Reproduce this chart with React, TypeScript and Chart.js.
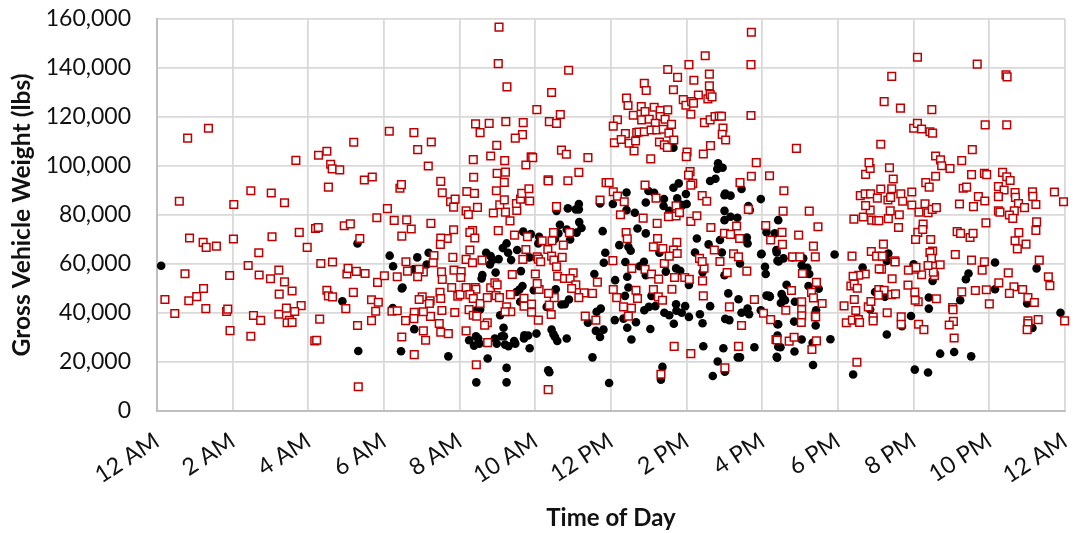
import React, { useEffect, useRef } from "react";
import { Chart, registerables } from "chart.js";

Chart.register(...registerables);

// [hour of day, gross vehicle weight in thousands of lbs]
const overweightNight: number[][] = [
  [.59,85.6],[.81,111.4],[1.36,115.4],[.86,70.6],[1.22,68.8],[1.3,66.8],[1.57,67.3],[2.02,70.2],[2.03,84.3],[2.48,89.9],[3.02,89],[3.37,85],[2.41,59.4],[2.69,64.6],[3.04,71.1],[3.76,72.9],[3.97,66.8],[3.67,102.3],[4.19,74.5],[4.26,74.9],[4.27,104.4],[4.49,106],[4.59,100.7],[4.63,98.8],[4.83,98.4],[4.53,91.4],[4.33,60.2],[4.64,60.8],[4.95,75.6],[5.11,76.4],[5.36,70.4],[5.2,109.7],[5.48,94.3],[5.69,95.5],[5.81,78.9],[6.09,82.6],[6.27,77.8],[6.14,114.2],[6.42,90.9],[6.46,92.4],[6.47,71.4],
  [.74,56],[.21,45.5],[.47,39.8],[.84,45],[1.05,46.7],[1.23,50],[1.29,41.8],[1.84,40.6],[1.87,41.6],[1.92,55.3],[1.93,32.8],[2.48,30.5],[2.55,39],[2.74,37],[2.7,55.5],[3,54],[3.22,57.5],[3.37,52.7],[3.23,47.7],[3.57,49],[3.22,39.5],[3.42,42],[3.81,43],[3.64,40.6],[3.5,37],[3.44,36],[3.57,36.2],[4.3,37.5],[4.17,28.6],[4.22,28.9],[4.49,49.3],[4.53,47],[4.64,46.6],[4.99,41.8],[5.19,48.4],[5.02,55.9],[5.05,58.2],[5.27,57],[5.5,56.1],[5.83,52.5],[6.01,55.2],[6.35,54.8],[5.67,45.4],[5.85,44.4],[5.78,40.7],[5.67,36.9],[5.3,34.9],[5.32,9.9],[6.21,40.7],[6.35,40.9],[6.47,30.2],
];
const overweightMorning: number[][] = [
  [9.04,156.7],[9.02,141.8],[9.25,132.3],[10.88,139.1],[10.43,130],[10.04,123],[10.66,121],[10.37,118.1],[10.56,117.4],[6.79,113.6],[6.89,106.7],[7.25,109.8],[7.17,100],[7.5,93.7],[7.54,89.1],[7.76,85.4],[7.88,86.5],[7.84,83.2],[8.19,89.6],[8.39,88.8],[8.47,83.1],[8.17,81.7],[8.23,80.2],[8.89,80.8],[9.21,81.2],[9.51,81.9],[9.06,84.2],[9.18,86.2],[9.5,84.7],[9.61,86.5],[9.64,88.8],[9.85,85.7],[9.83,90.7],[8.97,89.9],[9.18,93.3],[8.99,97],[9.21,97.5],[8.37,95.4],[8.36,102.6],[9.19,102.2],[8.82,104.1],[8.98,108.4],[8.42,117.2],[8.54,113.6],[8.78,117.4],[9.22,118.1],[9.68,117.7],[9.66,112.8],[9.47,111.4],[9.89,103.7],[9.93,103.4],[9.75,100.4],[10.34,94.4],[10.34,93.9],[10.69,106.5],[10.82,104.8],[11.39,103.4],[11.15,97.4],[10.86,94],[10.56,83.4],[11.71,86.1],[6.6,78],[7.24,76.6],[9.33,77.6],
  [6.72,74.3],[9.02,73.6],[9.45,71.8],[9.79,71.1],[10.48,72.8],[10.9,72.8],[7.84,74],[8.34,73.6],[8.27,72.9],[8.4,70.6],[7.67,70.4],[7.5,70.6],[7.49,68],[8.27,65.7],[7.82,62.7],[7.32,63.4],[7.3,60.5],[6.58,60.9],[6.62,57.1],[7.04,56.8],[6.93,57.8],[6.89,54.8],[7.52,56.8],[7.54,53.7],[7.85,57.5],[8.04,56.9],[8.03,54.5],[8.17,61.9],[8.34,60.5],[8.59,61.6],[7.79,50.4],[7.95,46.9],[8.01,47.5],[8.17,50.4],[8.41,50.4],[8.43,49.7],[8.82,50.3],[8.93,52.3],[8.99,51.5],[9.39,55.7],[8.27,47.5],[8.36,45.9],[8.54,43.9],[8.73,46.3],[8.25,41.4],[8.36,39.1],[8.45,38.7],[8.73,36],[8.66,35],[8.96,47.1],[9.05,46.3],[9.34,47.5],[9.24,42.5],[9.35,40.5],[9.2,40.5],[9.7,46],[9.7,42.8],[9.9,43.6],[9.9,40.3],[10.08,37.1],[10.42,39.4],[10.37,43.2],[10.5,46.3],[10.35,48],[10.1,49.6],[10.05,52],[10,55.9],[9.67,61.9],[9.75,65.9],[10.18,69.5],[10.44,69.5],[10.74,67.7],[10.33,65.9],[10.05,62.9],[10.08,62],[10.14,60.9],[10.43,63.2],[10.49,61.6],[10.71,62.7],[10.56,58.9],[11,56.4],[10.59,55],[10.77,54.1],[10.92,54.1],[11.07,51.5],[10.96,50],[11.29,48.2],[11.51,48],[11.15,46.3],[11.64,52.6],[11.32,38.7],[11.6,37.1],[8.44,18.9],[8.74,27.9],[6.8,23],[10.34,8.7],[7.1,28.9],[7.04,32.7],[7.5,32.2],[7.7,31.6],[7.46,35.7],[7.23,38.6],[7.04,40.5],[6.8,40.3],[6.79,37.7],[6.57,36.9],[7.53,41],[7.87,40.2],[8.17,32.7],[7.01,46.6],[6.93,45.5],[7.22,45],[7.2,43.9],[7.48,48.4],[7.5,45.9],
];
const overweightAfternoon: number[][] = [
  [12.06,49.6],[12.15,46.3],[12.05,61.4],[12.33,42.5],[12.54,42],[12.46,38.7],[12.66,49.3],[12.7,45.9],[12.55,58.2],[12.9,57.8],[13.07,55.9],[13.26,53.8],[13.12,49.6],[13.61,49.7],[13.25,46.6],[13.36,45.2],[13.68,54.5],[13.95,54.5],[14.07,53.7],[14.42,53.1],[14.44,47],[13.41,60.2],[14.46,58.3],[14.34,62.3],[14.41,61],[14.73,65.7],[14.88,61],[15.07,56.5],[15.59,57.1],[15.24,64.2],[15.37,62.9],[15,72.5],[15.16,72.1],[15.4,70.4],[15.32,75.5],[16.09,75.7],[16.22,69.8],[14.64,74.9],[14.11,77.4],[14.27,79.7],[13.81,80.9],[13.54,79.6],[13.72,79.6],[13.22,76.6],[12.85,78.7],[12.25,80.1],[12.4,72.8],[12.43,70.3],[13.12,67],[13.23,70.4],[13.37,66.3],[13.74,68.8],[13.65,65.7],[13.75,64.3],[13.54,63.2],[15.79,45.5],[15.13,42.5],[15.45,34.9],[16.03,39.9],[16.22,37.3],[15.37,26.4],[16.36,29.2],[13.67,26.4],[14.11,23.4],[15.01,17.6],[13.32,15],
  [12.41,127.7],[12.45,124.7],[12.8,124.3],[12.9,122.2],[13.14,124],[13.3,122.6],[13.5,122.9],[12.59,120.7],[12.81,118.8],[13.01,119.1],[13.3,120.2],[13.43,119.1],[13.6,117],[13.17,117.4],[12.17,118.9],[12.06,116.3],[12.38,113.2],[12.68,113.6],[12.74,113.9],[12.88,114],[13.06,114.7],[13.21,114.7],[13.38,115],[13.53,113.4],[12.09,109.5],[12.27,110.8],[12.48,109.3],[12.65,110.2],[12.61,106.1],[13.28,109.8],[13.41,108.6],[13.49,107.6],[13.66,110.6],[13.05,102.9],[12.88,133.7],[12.93,130.8],[13.5,139.4],[13.76,136.2],[14.06,141.4],[14.49,145],[14.6,137.5],[14.19,135],[13.65,131.1],[14.6,132.7],[14.31,129],[13.91,127.1],[13.98,124.8],[14.13,126.3],[14.18,125.6],[14.56,127.4],[14.62,129.2],[14.67,128.2],[14.11,121.1],[14.47,117.7],[14.62,118.8],[14.75,120.2],[14.86,120.4],[14.92,120.3],[14.96,115.5],[14.94,112.9],[15.03,110.6],[14.63,108.3],[14.44,104.9],[14.01,105.7],[13.99,103.8],[15.84,101.4],[15.71,154.6],[15.7,141.4],[15.7,120.6],[15.71,95.8],[16.19,96],[15.41,93.2],[14.09,97.7],[14.05,96.3],[14.16,92.9],[14.11,92.2],[12.9,92.2],[11.87,93.2],[11.95,93.2],[12.06,89.5],[12.17,87.7],[12.35,85.4],[13.19,86.9],[13.72,83.7],[13.81,81],[13.52,79.3],[14.41,87.9],[14.53,85.6],[15.63,82.3],
  [16.9,107.2],[16.57,89.9],[16.55,81.6],[17.24,81.6],[17.47,75.2],[16.52,72.9],[16.96,71.8],[16.53,68],[17.35,67.3],[16.8,62.9],[16.99,62.9],[17.4,62.9],[16.77,49.2],[17.43,52.5],[17.3,48.4],[17.35,46.2],[17.58,43.9],[17.04,44.6],[16.62,41.1],[17.04,41.4],[17.04,38.8],[17.03,36.1],[17.4,38.8],[17.41,38.4],[17.06,56.1],[16.39,29],[16.71,28.5],[16.84,30.1],[17.43,28.6],[17.31,25.1],
];
const overweightEvening: number[][] = [
  [18.37,63.2],[18.88,65.1],[19.2,68.1],[19.02,63.2],[19.17,63.2],[19.5,61.3],[19.6,74.9],[18.42,78.3],[18.67,79.2],[18.89,77.9],[19.02,77.7],[19.08,77.7],[19.33,78.5],[19.62,80.1],[19.38,81.7],[18.85,82],[18.73,83.8],[18.59,87.9],[18.72,88.6],[18.86,88.6],[19.04,86.9],[19.13,90.6],[19.42,90.7],[19.32,86.1],[19.39,87.2],[19.66,88.6],[19.71,85.6],[19.95,89.4],[19.95,84.1],[20.14,81.2],[20.38,80.9],[20.3,84.6],[20.49,82.3],[20.6,83],[19.46,94.7],[18.73,96.6],[18.85,99],[18.82,101.4],[19.36,99.3],[19.13,108.9],[19.22,126.3],[19.65,123.6],[19.42,136.6],[20.1,144.4],[21.68,141.6],[22.44,137.2],[22.47,136.4],[20.48,123],[21.89,116.8],[22.46,116.8],[20,115.4],[20.1,117.4],[20.21,115.1],[20.43,114],[20.5,113.4],[20.58,104.1],[20.71,102.5],[20.74,100.1],[20.96,99],[21.27,102.2],[21.55,106.7],[20.58,95.8],[20.32,93.2],[20.41,91.4],[21.53,96.5],[21.87,97],[21.93,96.5],[22.35,97.4],[22.46,95.6],[22.55,94.1],[22.24,91.6],[22.39,90.2],[21.31,90.9],[21.4,91.4],[21.71,87.5],[21.21,84.5],[21.58,83.4],[21.88,85.7],[22.24,87.5],[22.68,89.2],[22.69,87.2],[22.77,84.7],[22.93,83],[22.66,81.7],[22.24,81.7],[22.28,81.2],[22.53,80],[22.62,78.6],[23.14,89.5],[23.15,87.6],[23.23,84.3],[23.72,89.4],[23.96,85.4],[21.91,76.8],[23.25,77.2],[23.23,73.7],[22.78,72.8],[22.68,69.5],[22.74,66.2],[22.97,68.1],[20.25,76.3],[20.11,72.9],[20.24,74.1],[20.05,70],[20.45,70],[20.5,65.3],[20.43,64.7],[20.47,62.3],[21.1,63.9],[21.15,73.2],[21.24,72.5],[21.49,70.8],[21.57,72.5],[21.53,61.6],[21.87,60.9],[23.32,61.6],
  [21.81,57.5],[22.5,56.4],[22.25,52.3],[21.63,49.2],[21.92,49.5],[21.27,48.6],[22.65,50.7],[22.53,48],[22.88,49.6],[23.02,46.3],[23.19,44.3],[22,43.7],[23.56,54.8],[23.6,51.2],[23.99,36.8],[23.29,37.3],[23.02,36.8],[23.02,35.7],[23,33.2],[21.03,42.2],[21.04,41.4],[21.05,36.6],[20.94,35.1],[21.07,29.8],[20.6,45.8],[20.12,44.6],[20.04,45.2],[20.03,48.5],[19.85,51.4],[20.21,55.6],[20.03,57.9],[20.06,58.6],[19.86,57.5],[20.55,55.2],[20.52,56.7],[20.38,59.4],[20.7,59.7],[19.43,54],[19.51,60.8],[19.15,57.9],[19.09,58],[18.72,55.9],[18.55,55.4],[18.4,55],[18.34,51],[18.43,51.8],[18.51,50.1],[18.16,42.9],[18.43,45.5],[18.8,42.5],[18.87,44.7],[19.08,49.6],[19.22,49.3],[19.07,47.3],[19.42,47.5],[19.52,47.8],[19.3,40.1],[19.67,38.4],[19.67,35.4],[20.13,35.4],[20.27,33.2],[18.93,38.3],[18.93,36.8],[18.47,41],[18.22,36],[18.38,37.1],[18.54,37.3],[18.57,36.1],[18.5,19.9],
];
const legalMorning: number[][] = [
  [.11,59.3],[5.3,68.4],[6.15,63.4],[6.24,59.1],[4.9,44.8],[5.32,24.5],[6.23,42],[6.45,24.4],[6.47,50],
  [11.71,84.7],[11.15,84.5],[11.15,82.3],[11.07,82.3],[10.86,82.7],[10.56,81.7],[11.16,77.1],[11.22,74.7],[11.09,72.8],[10.92,70],[11.78,73.4],[10.65,76],[10.83,74.1],[10.61,72.5],[9.68,73.2],[9.88,72.2],[10.1,71.1],[10.08,68.4],[10.52,70.2],[9.24,68.4],[9.14,66.5],[9.28,64.6],[9.52,65.7],[9.84,62.7],[9.36,61.6],[9.03,62],[8.7,64.6],[8.82,63.2],[8.87,61.6],[8.8,59.8],[7.18,64.6],[6.88,62.7],[6.78,57.8],[7.13,59.8],[6.49,50.4],[8.95,56.5],[9.62,57.1],[8.6,55.5],[8.58,54.1],[9.66,51],[9.58,49.6],[9.5,48.6],[9.96,49.3],[10.54,49.7],[10.89,45.5],[10.78,43.6],[10.69,43.5],[10.3,42.5],[9.6,44.6],[8.54,41.4],[8.45,41.1],[9.07,39.1],[11.73,41.8],[11.62,40.5],[11.39,36],[11.56,55.9],[11.81,60.5],[11.85,64.6],[11.6,32.7],[11.8,33.2],[11.71,30.2],[10.43,33.2],[10.48,31.3],[10.52,30.2],[10.58,28.6],[10.83,29.6],[10.03,31.6],[9.71,30.9],[9.81,30.8],[9.7,29.6],[9.16,34],[9.11,30.5],[9.17,30.5],[8.93,29.6],[8.98,27.5],[9.44,28.6],[9.47,27.5],[9.2,27.1],[9.29,26.4],[9.85,25.6],[8.25,28.9],[8.43,30.5],[8.49,29.6],[8.52,27.5],[8.38,26.7],[8.74,21.4],[7.7,22.3],[6.8,33.4],[9.24,17.6],[9.24,11.7],[8.44,11.7],[10.34,16.6],[10.37,15.8],[11.51,21.9],[11.95,11.4],
];
const legalAfternoon: number[][] = [
  [13.65,107.5],[14.83,101.1],[14.95,99.3],[14.81,98.8],[14.62,93.9],[14.76,94.8],[13.79,92.9],[13.65,91.1],[12.41,89.2],[12.99,89.8],[13.14,89.1],[13.98,88.6],[13.75,86.8],[13.8,84.5],[13.4,86.5],[12.92,85.1],[13.39,83.7],[14,84.5],[13.9,84.1],[15,88.1],[15.02,88.8],[15.16,87.9],[15.45,90.6],[15.96,86.5],[15.63,83.7],[15,81.7],[15.67,82],[12.05,84.5],[12.41,82],[12.63,80.9],[13.54,81.7],[15.16,79.3],[15,77.9],[15.34,78.9],
  [12.1,37.1],[12.43,34],[12.66,36.2],[13.04,33.5],[13.66,35.6],[12.54,29.2],[14.42,35.8],[14.35,39.5],[14.06,38.4],[13.41,40.1],[13.54,39.1],[13.73,40.9],[13.87,40.1],[13.96,42.8],[13.72,43.6],[12.88,41.1],[13,42.5],[13.17,42.8],[14.62,42.8],[15.02,37.6],[15.13,37.1],[15.45,40.1],[15.61,41.8],[15.65,39.5],[15.96,41.1],[15.37,45.6],[15.1,48],[16.11,47.1],[16.19,46.9],[16.4,35.4],[16.07,58.9],[16.09,55.9],[16.4,61.3],[15.98,64.2],[15.61,68.4],[15.59,70.8],[15.41,60.2],[15,55.4],[14.93,64.7],[14.88,69.8],[14.58,68],[14.22,64.7],[14.27,70.4],[16.11,73],[16.33,72.5],[16.37,65.7],[16.42,77.9],[14.42,56.7],[14.06,51.4],[13.45,56.9],[13.72,58.2],[13.83,57.2],[12.87,60.9],[12.76,59.1],[12.38,60.8],[12.92,55.4],[12.43,54.8],[12.11,53.4],[12.46,50.4],[12.37,47],[13.07,47],[12.22,67.7],[12.46,67],[12.52,65.4],[12.7,74.5],[12.92,72.5],[13.28,64.6],[12.33,37.7],
  [14.44,26.4],[14.97,25.6],[14.82,20.2],[15.01,16],[14.69,14.3],[15.41,21.9],[15.35,21.9],[15.79,26],[16.38,22.1],[16.42,26.2],[13.36,18],[13.32,12.8],
  [15.97,64],[16.38,64.7],[16.56,62.3],[16.43,61],[16.8,62.7],[17.08,62.3],[17.91,63.9],[17.04,59.5],[17.19,58.4],[17.24,55.9],[16.64,51.5],[17.22,51],[17.49,49.9],[16.16,47],[16.2,46.6],[16.51,47.7],[16.56,45.9],[16.49,44.1],[16.6,45.2],[16.86,44.6],[16.42,35.4],[16.84,36.5],[17.41,34.9],[17.42,41.1],[16.4,30.8],[16.48,26],[17.04,29.2],[16.85,24.3],[16.39,21.8],[17.33,27.8],[17.34,18.8],[17.8,29.3],
];
const legalEvening: number[][] = [
  [18.65,58.6],[19.29,61.2],[19.33,64.3],[18.98,48.6],[19.24,46.6],[18.85,41.4],[19.29,31.2],[18.4,14.9],[20,59.9],[20.5,53.1],[20.4,46.3],[20.4,41.8],[19.93,38.8],[19.69,34.6],[20.03,16.9],[20.38,15.7],[20.7,23.4],[21.07,24.1],[21.52,22.3],[21.45,56.1],[21.38,53.8],[21.23,45.2],[22.15,60.6],[22.15,49.7],[23.25,58.2],[23,43.9],[23.14,33.9],[23.88,40.1],
];
const hourTicks = ["12 AM","2 AM","4 AM","6 AM","8 AM","10 AM","12 PM","2 PM","4 PM","6 PM","8 PM","10 PM","12 AM"];
const yAxisTitle = "Gross Vehicle Weight (lbs)";
const xAxisTitle = "Time of Day";

const toPoints = (lists: number[][][]) =>
  lists.flat().map(([h, w]) => ({ x: h, y: w * 1000 }));

export default function App() {
  const ref = useRef<HTMLCanvasElement | null>(null);
  useEffect(() => {
    if (!ref.current) return;
    const fontFamily = "Lato, 'Open Sans', sans-serif";
    const chart = new Chart(ref.current, {
      type: "scatter",
      data: {
        datasets: [
          {
            label: "Overweight",
            data: toPoints([overweightNight, overweightMorning, overweightAfternoon, overweightEvening]),
            order: 1,
            clip: false,
            pointStyle: "rect",
            pointRadius: 5.4,
            pointBackgroundColor: "#ffffff",
            pointBorderColor: "#c00000",
            pointBorderWidth: 1.5,
          },
          {
            label: "Legal",
            data: toPoints([legalMorning, legalAfternoon, legalEvening]),
            order: 2,
            clip: false,
            pointStyle: "circle",
            pointRadius: 4.3,
            pointBackgroundColor: "#000000",
            pointBorderColor: "#000000",
            pointBorderWidth: 0,
          },
        ],
      },
      options: {
        responsive: false,
        animation: false,
        layout: { padding: { top: 19, right: 13, left: 0, bottom: 0 } },
        plugins: { legend: { display: false }, tooltip: { enabled: false } },
        scales: {
          x: {
            type: "linear",
            min: 0,
            max: 24,
            afterFit: (s: any) => { s.height = 122; s.paddingLeft = 0; s.paddingRight = 0; },
            afterBuildTicks: (s: any) => {
              s.ticks = hourTicks.map((_, i) => ({ value: i * 2 }));
            },
            ticks: {
              autoSkip: false,
              maxRotation: 33,
              minRotation: 33,
              padding: 16,
              color: "#111111",
              font: { family: fontFamily, size: 23.5 },
              callback: (v: any) => hourTicks[Math.round(Number(v) / 2)],
            },
            grid: { color: "#d9d9d9", lineWidth: 1.8, drawTicks: false },
            border: { color: "#bfbfbf", width: 2 },
            title: {
              display: true,
              text: xAxisTitle,
              color: "#111111",
              padding: { top: 0, bottom: 0 },
              font: { family: fontFamily, size: 24, weight: "bold" },
            },
          },
          y: {
            min: 0,
            max: 160000,
            afterFit: (s: any) => { s.width = 157; s.paddingTop = 0; s.paddingBottom = 0; },
            ticks: {
              stepSize: 20000,
              padding: 26,
              color: "#111111",
              font: { family: fontFamily, size: 23 },
              callback: (v: any) => Number(v).toLocaleString("en-US"),
            },
            grid: { color: "#d9d9d9", lineWidth: 1.8, drawTicks: false },
            border: { color: "#bfbfbf", width: 2 },
            title: {
              display: true,
              text: yAxisTitle,
              color: "#111111",
              padding: { top: 7, bottom: 0 },
              font: { family: fontFamily, size: 24.6, weight: "bold" },
            },
          },
        },
      },
    } as any);
    return () => chart.destroy();
  }, []);
  return (
    <div style={{ position: "absolute", left: 0, top: 0, width: 1078, height: 533, background: "#fff" }}>
      <canvas ref={ref} width={1078} height={533} style={{ display: "block" }} />
    </div>
  );
}
